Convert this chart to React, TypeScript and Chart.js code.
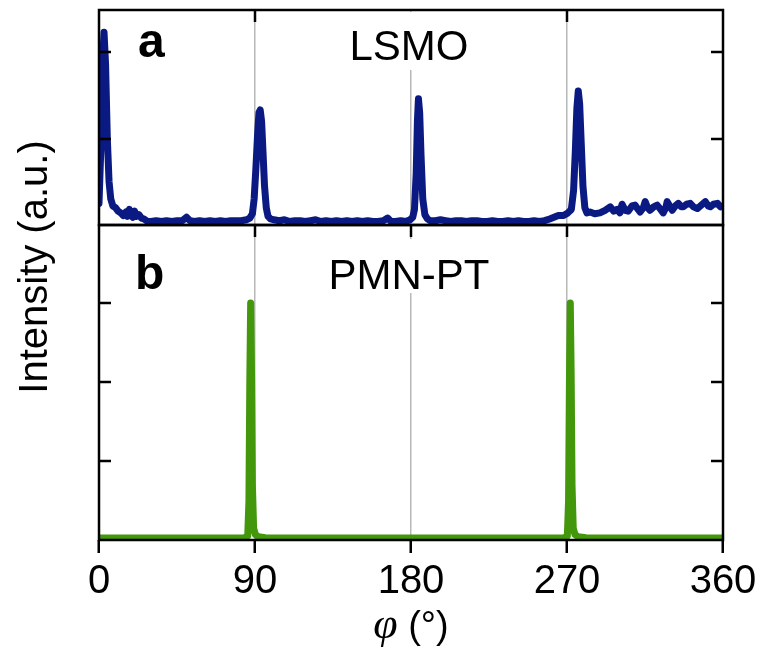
import React, { useEffect, useRef } from 'react';
import { Chart, registerables } from 'chart.js';
Chart.register(...registerables);

// ---- data ----
const lsmoPhi = [
  0, 1, 2, 2.9, 3.8, 4.8, 5.8, 6.8, 8, 9.5, 11, 12.5, 14, 15.5, 16.5, 17.5, 18.5, 19.5, 20.5, 21.5,
  23, 24.5, 26, 28, 30, 33, 36, 39, 42, 45, 48, 50.5, 52.5, 55, 58, 61, 64, 67, 70, 73, 76, 79, 82,
  85, 87, 88.5, 89.5, 90.5, 91.5, 92.3, 93, 93.8, 94.6, 95.5, 96.5, 97.5, 99, 101, 104, 107, 110,
  113, 116, 119, 122, 125, 128, 131, 134, 137, 140, 143, 146, 149, 152, 155, 158, 161, 164, 166.5,
  168.5, 171, 174, 177, 179.5, 181, 182, 183, 183.7, 184.3, 185, 185.8, 186.8, 188, 189.5, 191, 194,
  197, 200, 203, 206, 209, 212, 215, 218, 221, 224, 227, 230, 233, 236, 239, 242, 245, 248, 251, 254,
  257, 260, 262.5, 265, 268, 270.5, 272.5, 273.8, 274.8, 275.7, 276.5, 277.3, 278.2, 279.2, 280.3,
  281.5, 283.3, 286, 289, 292, 294.9, 297, 298.9, 300.5, 301.8, 303.5, 305.3, 307.5, 309.3, 311,
  312.2, 314, 315.1, 316.5, 317.9, 320, 322, 324, 325.5, 327, 327.8, 329.5, 330.7, 332.5, 334.2, 336,
  337.1, 339, 341.1, 343, 345.2, 347.5, 349.8, 351.5, 352.7, 354.5, 356.8, 358.5, 360,
];
const lsmoI = [
  0.25, 0.85, 1.85, 2.23, 1.85, 1.0, 0.5, 0.3, 0.22, 0.2, 0.16, 0.14, 0.11, 0.15, 0.1, 0.18, 0.11, 0.09, 0.16, 0.1,
  0.12, 0.08, 0.07, 0.04, 0.04, 0.05, 0.04, 0.05, 0.04, 0.05, 0.05, 0.09, 0.05, 0.04, 0.05, 0.04, 0.05, 0.04, 0.05, 0.04, 0.05, 0.05, 0.05,
  0.06, 0.08, 0.13, 0.3, 0.65, 1.05, 1.3, 1.33, 1.2, 0.85, 0.45, 0.2, 0.1, 0.07, 0.06, 0.05, 0.06, 0.04,
  0.05, 0.05, 0.04, 0.05, 0.06, 0.04, 0.05, 0.04, 0.05, 0.04, 0.05, 0.04, 0.05, 0.04, 0.05, 0.04, 0.04, 0.05, 0.08,
  0.04, 0.04, 0.05, 0.04, 0.06, 0.09, 0.18, 0.6, 1.2, 1.46, 1.3, 0.8, 0.3, 0.12, 0.07, 0.05, 0.05,
  0.06, 0.05, 0.04, 0.05, 0.05, 0.04, 0.05, 0.05, 0.04, 0.04, 0.05, 0.04, 0.04, 0.05, 0.04, 0.05, 0.04, 0.04, 0.05, 0.04,
  0.05, 0.07, 0.09, 0.11, 0.11, 0.14, 0.18, 0.4, 0.85, 1.35, 1.55, 1.4, 0.95, 0.45, 0.2,
  0.14, 0.15, 0.13, 0.14, 0.17, 0.21, 0.16, 0.18, 0.14, 0.24, 0.17, 0.16, 0.22, 0.23, 0.18,
  0.15, 0.2, 0.27, 0.2, 0.17, 0.21, 0.23, 0.18, 0.14, 0.2, 0.27, 0.21, 0.17, 0.22, 0.25, 0.21,
  0.21, 0.24, 0.25, 0.21, 0.19, 0.23, 0.27, 0.22, 0.21, 0.24, 0.25, 0.21, 0.22,
];
const pmnPhi = [
  0, 20, 40, 60, 80, 84, 85.8, 86.5, 87, 87.5, 88, 88.5, 89.2, 90.2, 92, 96, 110, 130, 150, 170,
  190, 210, 230, 250, 266, 268.5, 270.2, 270.9, 271.4, 271.9, 272.4, 272.9, 273.6, 274.6, 276.5, 281,
  300, 320, 340, 360,
];
const pmnI = [
  0.025, 0.025, 0.025, 0.025, 0.025, 0.03, 0.05, 0.5, 2.0, 3.0, 2.1, 0.7, 0.15, 0.07, 0.04, 0.03, 0.025, 0.025, 0.025, 0.025,
  0.025, 0.025, 0.025, 0.025, 0.025, 0.03, 0.05, 0.5, 2.0, 3.0, 2.1, 0.7, 0.15, 0.07, 0.04, 0.03,
  0.025, 0.025, 0.025, 0.025,
];
const xTicks = [0, 90, 180, 270, 360];
const topTicks = [1, 2];
const botTicks = [1, 2, 3];
const panelLetters = ['a', 'b'];
const panelNames = ['LSMO', 'PMN-PT'];
const yTitle = 'Intensity (a.u.)';
const xTitleSymbol = 'φ';
const xTitleUnit = ' (°)';

const SANS = '"Liberation Sans", Arial, sans-serif';

const framePlugin = {
  id: 'frame',
  beforeDatasetsDraw(chart: any) {
    const ctx = chart.ctx;
    const xs = chart.scales.x;
    const yt = chart.scales.yTop;
    const yb = chart.scales.yBot;
    ctx.save();
    ctx.strokeStyle = '#000';
    ctx.lineWidth = 2.5;
    for (const v of [90, 270]) {
      const px = Math.round(xs.getPixelForValue(v));
      ctx.beginPath();
      ctx.moveTo(px, yt.top);
      ctx.lineTo(px, yt.top + 12);
      ctx.stroke();
    }
    for (const v of [90, 180, 270]) {
      const px = Math.round(xs.getPixelForValue(v));
      ctx.beginPath();
      ctx.moveTo(px, yb.top);
      ctx.lineTo(px, yb.top + 12);
      ctx.stroke();
    }
    const cx = xs.getPixelForValue(180);
    ctx.fillStyle = '#fff';
    ctx.fillRect(cx - 70, yt.top + 2, 140, 58);
    ctx.fillRect(cx - 85, yb.top + 14, 170, 54);
    ctx.fillStyle = '#000';
    ctx.textBaseline = 'alphabetic';
    ctx.textAlign = 'left';
    ctx.font = `bold 48px ${SANS}`;
    ctx.fillText(panelLetters[0], 138, yt.top + 47);
    ctx.fillText(panelLetters[1], 135, yb.top + 64);
    ctx.textAlign = 'center';
    ctx.font = `42px ${SANS}`;
    ctx.fillText(panelNames[0], cx - 2, yt.top + 50);
    ctx.fillText(panelNames[1], cx - 2, yb.top + 64);
    ctx.restore();
  },
  afterDatasetsDraw(chart: any) {
    const ctx = chart.ctx;
    const xs = chart.scales.x;
    const yt = chart.scales.yTop;
    const yb = chart.scales.yBot;
    const L = xs.left;
    const R = xs.right;
    ctx.save();
    ctx.strokeStyle = '#000';
    ctx.lineWidth = 2.5;
    ctx.strokeRect(L, yt.top, R - L, yt.bottom - yt.top);
    ctx.strokeRect(L, yb.top, R - L, yb.bottom - yb.top);
    const yTick = (scale: any, vals: number[]) => {
      for (const v of vals) {
        const py = Math.round(scale.getPixelForValue(v));
        ctx.beginPath();
        ctx.moveTo(L, py);
        ctx.lineTo(L + 12, py);
        ctx.moveTo(R, py);
        ctx.lineTo(R - 12, py);
        ctx.stroke();
      }
    };
    yTick(yt, topTicks);
    yTick(yb, botTicks);
    ctx.restore();
  },
  afterDraw(chart: any) {
    const ctx = chart.ctx;
    const xs = chart.scales.x;
    ctx.save();
    ctx.fillStyle = '#000';
    ctx.translate(36, 267);
    ctx.rotate(-Math.PI / 2);
    ctx.font = `40px ${SANS}`;
    ctx.textAlign = 'center';
    ctx.textBaseline = 'middle';
    ctx.fillText(yTitle, 0, 0);
    ctx.restore();
    ctx.save();
    ctx.fillStyle = '#000';
    ctx.textBaseline = 'alphabetic';
    ctx.textAlign = 'left';
    const fSym = 'italic 44px "Liberation Serif", "Times New Roman", serif';
    const fUnit = `38px ${SANS}`;
    ctx.font = fSym;
    const w1 = ctx.measureText(xTitleSymbol).width;
    ctx.font = fUnit;
    const w2 = ctx.measureText(xTitleUnit).width;
    const cx = xs.getPixelForValue(180);
    const x0 = cx - (w1 + w2) / 2;
    ctx.font = fSym;
    ctx.fillText(xTitleSymbol, x0, 638);
    ctx.font = fUnit;
    ctx.fillText(xTitleUnit, x0 + w1, 638);
    ctx.restore();
  },
};

export default function App() {
  const ref = useRef<HTMLCanvasElement | null>(null);
  useEffect(() => {
    if (!ref.current) return;
    const chart = new Chart(ref.current, {
      type: 'line',
      data: {
        datasets: [
          {
            label: panelNames[0],
            data: lsmoPhi.map((p, i) => ({ x: p, y: lsmoI[i] })),
            yAxisID: 'yTop',
            borderColor: '#0a1a82',
            borderWidth: 7,
            pointRadius: 0,
            tension: 0,
            borderJoinStyle: 'round',
            borderCapStyle: 'round',
          },
          {
            label: panelNames[1],
            data: pmnPhi.map((p, i) => ({ x: p, y: pmnI[i] })),
            yAxisID: 'yBot',
            borderColor: '#42980a',
            borderWidth: 7,
            pointRadius: 0,
            tension: 0,
            borderJoinStyle: 'round',
            borderCapStyle: 'round',
          },
        ],
      },
      options: {
        responsive: false,
        animation: false,
        devicePixelRatio: 1,
        layout: { padding: { left: 99, right: 36, top: 10, bottom: 0 } },
        plugins: { legend: { display: false }, tooltip: { enabled: false } },
        scales: {
          x: {
            type: 'linear',
            min: 0,
            max: 360,
            position: 'bottom',
            afterBuildTicks: (s: any) => {
              s.ticks = xTicks.map((v) => ({ value: v }));
            },
            ticks: {
              font: { family: SANS, size: 40 },
              color: '#000',
              padding: 5,
              maxRotation: 0,
              autoSkip: false,
            },
            grid: {
              color: (c: any) =>
                c.tick && (c.tick.value === 0 || c.tick.value === 360) ? 'rgba(0,0,0,0)' : '#b8b8b8',
              lineWidth: 1.5,
              drawTicks: true,
              tickLength: 13,
              tickColor: '#000',
              tickWidth: 2.5,
            },
            border: { display: false },
            afterFit: (s: any) => {
              s.height = 110;
              s.paddingLeft = 0;
              s.paddingRight = 0;
            },
          },
          yBot: {
            type: 'linear',
            position: 'left',
            stack: 'panels',
            stackWeight: 315,
            min: 0,
            max: 3.987,
            ticks: { display: false },
            grid: { display: false },
            border: { display: false },
            afterFit: (s: any) => {
              s.width = 0;
            },
          },
          yTop: {
            type: 'linear',
            position: 'left',
            stack: 'panels',
            stackWeight: 215,
            min: 0,
            max: 2.486,
            ticks: { display: false },
            grid: { display: false },
            border: { display: false },
            afterFit: (s: any) => {
              s.width = 0;
            },
          },
        },
      },
      plugins: [framePlugin],
    } as any);
    return () => chart.destroy();
  }, []);
  return (
    <div style={{ position: 'absolute', left: 0, top: 0, width: 759, height: 650, background: '#fff' }}>
      <canvas ref={ref} width={759} height={650} style={{ display: 'block' }} />
    </div>
  );
}
